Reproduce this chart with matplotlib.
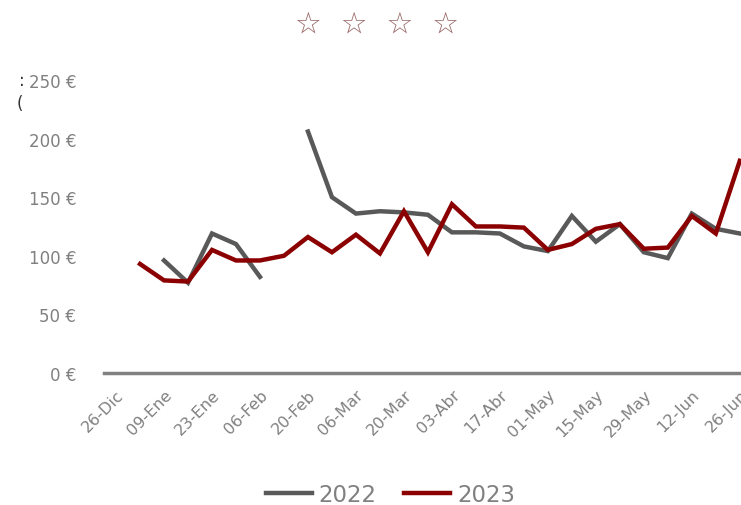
import numpy as np
import matplotlib.pyplot as plt

weeks = np.arange(27)
tick_labels = ["26-Dic", "09-Ene", "23-Ene", "06-Feb", "20-Feb", "06-Mar", "20-Mar",
               "03-Abr", "17-Abr", "01-May", "15-May", "29-May", "12-Jun", "26-Jun"]

nan = np.nan
precio_2022 = [nan, nan, 96, 77, 119, 110, 82, nan, 206, 150, 136, 138, 137, 135,
               120, 120, 119, 108, 104, 134, 112, 127, 103, 98, 136, 123, 119]
precio_2023 = [nan, 93, 79, 78, 105, 96, 96, 100, 116, 103, 118, 102, 138, 103,
               144, 125, 125, 124, 105, 110, 123, 127, 106, 107, 134, 119, 181]

gris = "#595959"
rojo = "#8b0000"
texto = "#808080"

fig = plt.figure(figsize=(7.41, 5.06), dpi=100)
ax = fig.add_axes([0.1404, 0.2609, 0.8596, 0.5791])

ax.plot(weeks, precio_2022, color=gris, lw=3.2, label="2022", clip_on=False,
        solid_joinstyle="miter")
ax.plot(weeks, precio_2023, color=rojo, lw=3.2, label="2023", clip_on=False,
        solid_joinstyle="miter")

ax.set_xlim(-0.5, 26.05)
ax.set_ylim(0, 250)
ax.set_yticks(range(0, 251, 50))
ax.set_yticklabels([f"{v} €" for v in range(0, 251, 50)], fontsize=12, color=texto)
ax.set_xticks(weeks[::2])
ax.set_xticklabels(tick_labels, rotation=45, ha="right", rotation_mode="anchor",
                   fontsize=11.5, color=texto)
ax.tick_params(axis="both", length=0)
ax.tick_params(axis="x", pad=10)
ax.tick_params(axis="y", pad=20)

for s in ["top", "right", "left"]:
    ax.spines[s].set_visible(False)
ax.spines["bottom"].set_color(texto)
ax.spines["bottom"].set_linewidth(2.5)

fig.text(0.509, 0.953, "☆  ☆  ☆  ☆", ha="center", va="center", fontsize=21.5,
         color="#9c6b6b")
fig.text(0.025, 0.84, ":", ha="left", va="center", fontsize=12, color="#333333")
fig.text(0.022, 0.795, "(", ha="left", va="center", fontsize=12, color="#333333")

leg = fig.legend(loc="center", bbox_to_anchor=(0.527, 0.02), ncol=2, frameon=False,
                 fontsize=16.5, handlelength=2.0, columnspacing=1.2, handletextpad=0.3)
for t in leg.get_texts():
    t.set_color(texto)

fig.savefig("out.png", dpi=100)
